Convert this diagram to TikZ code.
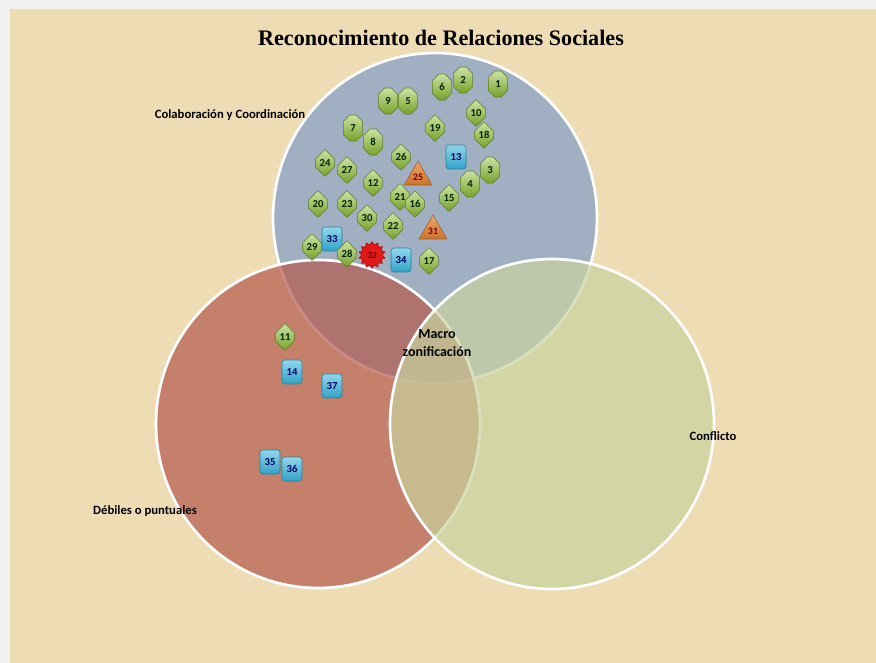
\documentclass[tikz,border=0pt]{standalone}
\usepackage{fontspec}
\setmainfont{Carlito}
\newfontfamily\titlefont{Liberation Serif}
\usetikzlibrary{shapes.geometric,shapes.misc}

\definecolor{paper}{RGB}{238,220,180}
\definecolor{frame}{RGB}{241,241,239}
\definecolor{colabblue}{RGB}{127,156,201}
\definecolor{debilred}{RGB}{181,89,77}
\definecolor{conflgreen}{RGB}{201,211,159}
\definecolor{hexgreen}{RGB}{140,190,50}
\definecolor{boxcyan}{RGB}{55,180,220}
\definecolor{triorange}{RGB}{228,128,45}
\definecolor{starred}{RGB}{225,25,25}

\tikzset{every picture/.style={line width=0.75pt}}
\tikzset{
  zone/.style={draw=white, line width=2pt, fill opacity=0.7},
  zonelabel/.style={font=\bfseries\fontsize{9.5}{11}\selectfont, text=black},
  hexmark/.style={chamfered rectangle, chamfered rectangle xsep=7pt, chamfered rectangle ysep=4pt,
    minimum width=14pt, minimum height=19.5pt, inner sep=0pt,
    top color=hexgreen!45!white, bottom color=hexgreen!85!black, draw=hexgreen!65!black, line width=0.4pt,
    font=\bfseries\fontsize{8}{8}\selectfont, text=black!85!green},
  boxmark/.style={rectangle, rounded corners=2pt, minimum width=15pt, minimum height=18pt, inner sep=0pt,
    top color=boxcyan!55!white, bottom color=boxcyan!90!black, draw=boxcyan!70!black, line width=0.4pt,
    font=\bfseries\fontsize{8}{8}\selectfont, text=blue!40!black},
  trimark/.style={regular polygon, regular polygon sides=3, minimum size=24pt, inner sep=0pt,
    top color=triorange!70!white, bottom color=triorange!90!black, draw=triorange!70!black, line width=0.4pt,
    font=\bfseries\fontsize{7.5}{8}\selectfont, text=red!50!black},
  starmark/.style={star, star points=14, star point ratio=1.3, minimum size=20pt, inner sep=0pt,
    fill=starred, draw=red!70!black, line width=0.4pt,
    font=\bfseries\fontsize{7}{8}\selectfont, text=red!50!black}
}

\begin{document}
\begin{tikzpicture}[x=0.75pt,y=0.75pt,yscale=-1,xscale=1]
	\useasboundingbox (0,0) rectangle (876,663);

	%Shape: Rectangle [id:frame]
	\fill [frame] (0,0) rectangle (876,663);
	%Shape: Rectangle [id:paper]
	\fill [paper] (10,9) rectangle (876,663);

	%Shape: Ellipse [id:colab]
	\draw [zone, fill=colabblue] (435,218) ellipse (162 and 165);
	%Shape: Ellipse [id:debil]
	\draw [zone, fill=debilred] (318,424) ellipse (162 and 164);
	%Shape: Ellipse [id:confl]
	\draw [zone, fill=conflgreen] (552,424) ellipse (162 and 165);

	% Text Node
	\node [font=\titlefont\bfseries\fontsize{16.6}{18}\selectfont] (title) at (441,38) {Reconocimiento de Relaciones Sociales};
	% Text Node
	\node [zonelabel] (lcolab) at (230,115) {Colaboración y Coordinación};
	% Text Node
	\node [zonelabel] (ldebil) at (145,511) {Débiles o puntuales};
	% Text Node
	\node [zonelabel] (lconfl) at (713,436) {Conflicto};
	% Text Node
	\node [zonelabel, font=\bfseries\fontsize{10.5}{14}\selectfont, align=center] (lmacro) at (437,343) {Macro\\zonificación};

	%Markers: hexagons
	\node [hexmark] (m1) at (498,84) {1};
	\node [hexmark] (m2) at (463,80) {2};
	\node [hexmark] (m6) at (442,87) {6};
	\node [hexmark] (m9) at (388,101) {9};
	\node [hexmark] (m5) at (408,101) {5};
	\node [hexmark] (m10) at (476,113) {10};
	\node [hexmark] (m18) at (484,135) {18};
	\node [hexmark] (m19) at (435,128) {19};
	\node [hexmark] (m7) at (353,128) {7};
	\node [hexmark] (m8) at (373,142) {8};
	\node [hexmark] (m26) at (401,157) {26};
	\node [hexmark] (m3) at (490,170) {3};
	\node [hexmark] (m24) at (325,163) {24};
	\node [hexmark] (m27) at (347,170) {27};
	\node [hexmark] (m12) at (373,183) {12};
	\node [hexmark] (m4) at (470,184) {4};
	\node [hexmark] (m20) at (318,204) {20};
	\node [hexmark] (m23) at (347,204) {23};
	\node [hexmark] (m21) at (400,197) {21};
	\node [hexmark] (m16) at (415,204) {16};
	\node [hexmark] (m15) at (449,198) {15};
	\node [hexmark] (m30) at (367,218) {30};
	\node [hexmark] (m22) at (393,226) {22};
	\node [boxmark] (m33) at (332,239) {33};
	\node [hexmark] (m29) at (312,247) {29};
	\node [hexmark] (m28) at (347,254) {28};
	\node [hexmark] (m17) at (429,261) {17};
	\node [hexmark] (m11) at (285,337) {11};

	%Markers: boxes
	\node [boxmark] (m13) at (456,157) {13};
	\node [boxmark] (m34) at (401,260) {34};
	\node [boxmark] (m14) at (292,372) {14};
	\node [boxmark] (m37) at (332,386) {37};
	\node [boxmark] (m35) at (270,462) {35};
	\node [boxmark] (m36) at (292,469) {36};

	%Markers: triangles and star
	\node [trimark] (m25) at (418,177) {25};
	\node [trimark] (m31) at (433,231) {31};
	\node [starmark] (m32) at (372,255) {32};

\end{tikzpicture}
\end{document}
